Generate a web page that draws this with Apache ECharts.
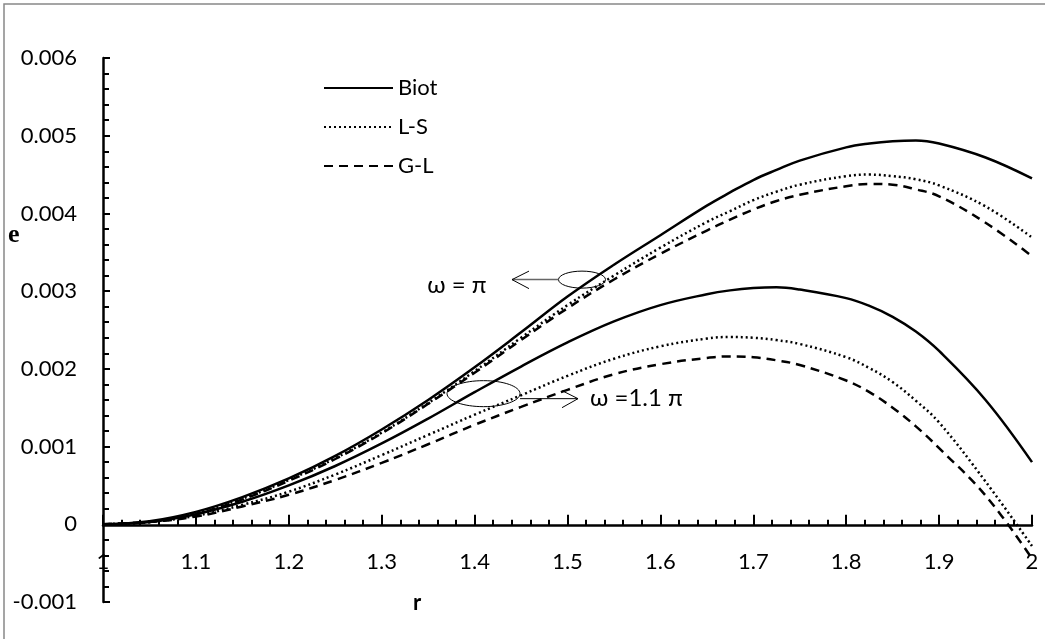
<!DOCTYPE html>
<html>
<head>
<meta charset="utf-8">
<script src="https://cdn.jsdelivr.net/npm/echarts@6/dist/echarts.min.js"></script>
<style>
  html, body { margin: 0; padding: 0; background: #fff; }
  #chart { width: 1045px; height: 639px; }
</style>
</head>
<body>
<div id="chart"></div>
<script>
// r values (x axis), a bit denser around the maxima
const rValues = [1.00, 1.05, 1.10, 1.15, 1.20, 1.25, 1.30, 1.35, 1.40, 1.45, 1.50,
  1.55, 1.60, 1.65, 1.675, 1.70, 1.725, 1.75, 1.80, 1.825, 1.85, 1.875, 1.90, 1.95, 2.00]

// omega = pi  (values in units of 1e-5)
const biotPi = [0, 4, 16, 35, 59, 88, 122, 160, 202, 247, 293,
  334, 372, 410, 427, 443, 456, 468, 485, 490, 493, 494, 490, 472, 445]
const lsPi = [0, 3, 14, 33, 57, 85, 118, 156, 197, 240, 282,
  320, 356, 389, 403, 417, 428, 437, 448, 450, 448, 444, 436, 409, 369]
const glPi = [0, 3, 13, 32, 56, 84, 117, 155, 195, 237, 278,
  315, 348, 378, 392, 405, 416, 424, 435, 438, 437, 431, 422, 388, 345]

// omega = 1.1 pi  (values in units of 1e-5)
const biot11Pi = [0, 3, 13, 29, 50, 75, 104, 136, 170, 203, 234,
  261, 282, 296, 301, 304, 305, 302, 291, 281, 267, 248, 223, 160, 80]
const ls11Pi = [0, 3, 11, 25, 42, 64, 89, 115, 141, 166, 191,
  213, 229, 239, 241, 240, 237, 232, 215, 201, 183, 159, 131, 55, -28]
const gl11Pi = [0, 3, 10, 23, 38, 57, 79, 103, 128, 151, 173,
  193, 206, 214, 216, 215, 211, 205, 185, 170, 150, 126, 98, 37, -44]

const legendNames = ['Biot', 'L-S', 'G-L']
const lineTypes = { 'Biot': 'solid', 'L-S': [2, 3], 'G-L': [9, 6] }

const FONT = 'Lato'

function pairs(ys) {
  return rValues.map((r, i) => [r, ys[i] * 1e-5])
}

function makeSeries(name, ys) {
  return {
    name: name,
    type: 'line',
    data: pairs(ys),
    symbol: 'none',
    smooth: 0.4,
    color: '#000',
    lineStyle: {
      color: '#000',
      width: 2.5,
      type: lineTypes[name]
    },
    emphasis: { disabled: true },
    z: 3
  }
}

const chart = echarts.init(document.getElementById('chart'))

chart.setOption({
  animation: false,
  backgroundColor: '#fff',
  grid: {
    left: 103,
    right: 13,
    top: 58,
    bottom: 37
  },
  legend: {
    data: legendNames,
    orient: 'vertical',
    left: 323,
    top: 76,
    padding: 0,
    itemWidth: 69,
    itemHeight: 14,
    itemGap: 15,
    itemStyle: { opacity: 0 },
    textStyle: {
      fontFamily: FONT,
      fontSize: 22,
      color: '#000',
      lineHeight: 24
    }
  },
  xAxis: {
    type: 'value',
    min: 1,
    max: 2,
    interval: 0.1,
    axisLine: {
      onZero: false,
      lineStyle: { color: '#000', width: 2.5 }
    },
    axisTick: {
      inside: true,
      length: 11,
      lineStyle: { color: '#000', width: 2 }
    },
    minorTick: {
      show: true,
      splitNumber: 5,
      length: 6,
      lineStyle: { color: '#000', width: 2 }
    },
    splitLine: { show: false },
    axisLabel: {
      margin: 25,
      showMinLabel: true,
      showMaxLabel: true,
      fontFamily: FONT,
      fontSize: 22,
      color: '#000',
      formatter: v => String(+v.toFixed(1))
    }
  },
  yAxis: {
    type: 'value',
    min: -0.001,
    max: 0.006,
    interval: 0.001,
    axisLine: {
      show: true,
      onZero: false,
      lineStyle: { color: '#000', width: 2.5 }
    },
    axisTick: {
      inside: true,
      length: 7,
      lineStyle: { color: '#000', width: 2 }
    },
    minorTick: {
      show: true,
      splitNumber: 5,
      length: 6,
      lineStyle: { color: '#000', width: 2 }
    },
    splitLine: { show: false },
    axisLabel: {
      margin: 26,
      fontFamily: FONT,
      fontSize: 22,
      color: '#000',
      formatter: v => (Math.abs(v) < 1e-9 ? '0' : v.toFixed(3))
    }
  },
  series: [
    makeSeries('Biot', biotPi),
    makeSeries('L-S', lsPi),
    makeSeries('G-L', glPi),
    makeSeries('Biot', biot11Pi),
    makeSeries('L-S', ls11Pi),
    makeSeries('G-L', gl11Pi)
  ]
})

// move the x axis (line, ticks and labels) up onto e = 0
const yZero = chart.convertToPixel({ yAxisIndex: 0 }, 0)
const yBottom = chart.convertToPixel({ yAxisIndex: 0 }, -0.001)

// annotations, anchored at data coordinates
const c1 = chart.convertToPixel({ gridIndex: 0 }, [1.5156, 0.003095])
const c2 = chart.convertToPixel({ gridIndex: 0 }, [1.4096, 0.0016])

chart.setOption({
  xAxis: { offset: yZero - yBottom },
  graphic: [
    {
      type: 'rect',
      shape: { x: 4, y: 4, width: 1200, height: 800 },
      style: { fill: 'none', stroke: '#888', lineWidth: 1.5 },
      silent: true
    },
    {
      type: 'text',
      left: 8,
      top: 222,
      style: { text: 'e', fontFamily: 'Liberation Serif', fontWeight: 'bold', fontSize: 26, fill: '#000' }
    },
    {
      type: 'text',
      left: 413,
      top: 592,
      style: { text: 'r', fontFamily: FONT, fontWeight: 'bold', fontSize: 22, fill: '#000' }
    },
    // omega = pi
    {
      type: 'ellipse',
      shape: { cx: c1[0], cy: c1[1], rx: 23.5, ry: 8.5 },
      style: { fill: 'none', stroke: '#000', lineWidth: 1 },
      z: 10
    },
    {
      type: 'line',
      shape: { x1: c1[0] - 23.5, y1: c1[1], x2: c1[0] - 70, y2: c1[1] },
      style: { stroke: '#666', lineWidth: 1.5 },
      z: 10
    },
    {
      type: 'polyline',
      shape: { points: [[c1[0] - 53, c1[1] - 8.5], [c1[0] - 70, c1[1]], [c1[0] - 53, c1[1] + 9]] },
      style: { fill: 'none', stroke: '#000', lineWidth: 1 },
      z: 10
    },
    {
      type: 'text',
      x: c1[0] - 125,
      y: c1[1] + 6,
      style: {
        text: 'ω = π', fontFamily: FONT, fontSize: 24, fill: '#000',
        align: 'center', verticalAlign: 'middle'
      },
      z: 10
    },
    // omega = 1.1 pi
    {
      type: 'ellipse',
      shape: { cx: c2[0], cy: c2[1], rx: 36.5, ry: 13 },
      style: { fill: 'none', stroke: '#000', lineWidth: 1 },
      z: 10
    },
    {
      type: 'line',
      shape: { x1: c2[0] + 36.5, y1: c2[1] + 5, x2: c2[0] + 94.5, y2: c2[1] + 5 },
      style: { stroke: '#000', lineWidth: 1 },
      z: 10
    },
    {
      type: 'polyline',
      shape: { points: [[c2[0] + 78.5, c2[1] - 3], [c2[0] + 94.5, c2[1] + 5], [c2[0] + 78.5, c2[1] + 14]] },
      style: { fill: 'none', stroke: '#000', lineWidth: 1 },
      z: 10
    },
    {
      type: 'text',
      x: c2[0] + 106.5,
      y: c2[1] + 5,
      style: {
        text: 'ω =1.1 π', fontFamily: FONT, fontSize: 24, fill: '#000',
        align: 'left', verticalAlign: 'middle'
      },
      z: 10
    }
  ]
})
</script>
</body>
</html>
